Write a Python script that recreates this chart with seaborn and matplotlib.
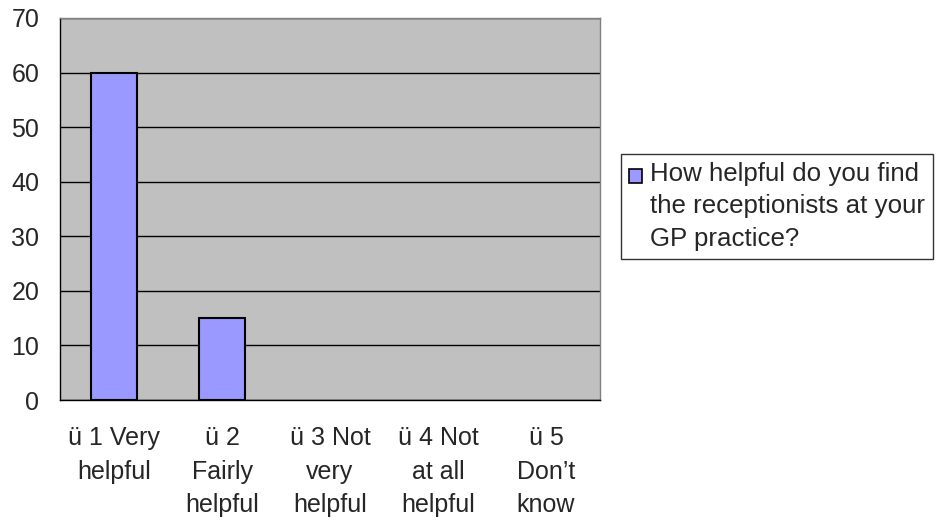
import seaborn as sns
import pandas as pd
import matplotlib.pyplot as plt
from matplotlib.patches import Patch, Rectangle
from matplotlib.legend_handler import HandlerPatch

categories = ['ü 1 Very\nhelpful', 'ü 2\nFairly\nhelpful', 'ü 3 Not\nvery\nhelpful',
              'ü 4 Not\nat all\nhelpful', 'ü 5\nDon’t\nknow']
values = [60, 15, 0, 0, 0]
series_name = 'How helpful do you find\nthe receptionists at your\nGP practice?'

df = pd.DataFrame({'cat': categories, 'val': values})

sns.set_style('white')
plt.rcParams['font.family'] = ['Liberation Sans', 'DejaVu Sans']

fig = plt.figure(figsize=(9.39, 5.2), dpi=100)
ax = fig.add_axes([60 / 939, 120 / 520, 540 / 939, 382 / 520])

sns.barplot(data=df, x='cat', y='val', color='#9999FF', edgecolor='black',
            linewidth=1.5, width=0.42, saturation=1, ax=ax)
# empty categories show no bar outline
for p in ax.patches:
    if p.get_height() == 0:
        p.set_linewidth(0)

ax.set_facecolor('#C0C0C0')
ax.set_ylim(0, 70)
ax.set_xlim(-0.5, 4.5)
ax.set_yticks(range(0, 71, 10))
ax.yaxis.grid(True, color='black', linewidth=1)
ax.set_axisbelow(True)
ax.set_xlabel('')
ax.set_ylabel('')

# tick marks sit between the categories
ax.set_xticks([i - 0.5 for i in range(6)], minor=True)
ax.tick_params(axis='x', which='major', length=0, pad=18.8, labelsize=18)
ax.tick_params(axis='x', which='minor', length=5, width=1, color='black', direction='out')
ax.tick_params(axis='y', length=6, width=1, color='black', direction='out', pad=9, labelsize=18)
for lab in ax.get_xticklabels():
    lab.set_linespacing(1.5)

for side in ['left', 'bottom']:
    ax.spines[side].set_color('black')
    ax.spines[side].set_linewidth(1)
for side in ['top', 'right']:
    ax.spines[side].set_visible(True)
    ax.spines[side].set_color('#808080')
    ax.spines[side].set_linewidth(1)


def square_marker(legend, orig_handle, xdescent, ydescent, width, height, fontsize):
    # small square at the bottom of the handle box, level with the first text line
    return Rectangle((-xdescent, -ydescent), width, width)


handle = Patch(facecolor='#9999FF', edgecolor='black', linewidth=1.2)
leg = fig.legend([handle], [series_name], loc='upper left',
                 bbox_to_anchor=(621 / 939, 1 - 154 / 520), fontsize=18.6,
                 frameon=True, fancybox=False, edgecolor='black',
                 handlelength=0.52, handleheight=0.87, handletextpad=0.3,
                 borderpad=0.3, borderaxespad=0,
                 handler_map={Patch: HandlerPatch(patch_func=square_marker)})
leg.get_frame().set_linewidth(1)
for t in leg.get_texts():
    t.set_linespacing(1.45)
# line the marker up with the top of the text
row = leg._legend_handle_box.get_children()[0].get_children()[0]
row.align = 'top'

fig.savefig('out.png', dpi=100)
